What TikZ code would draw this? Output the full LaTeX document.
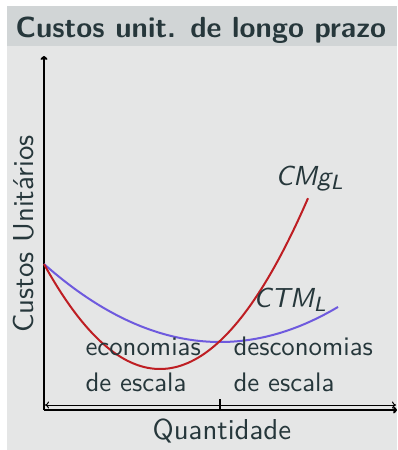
\documentclass[tikz,border=0pt]{standalone}
\usetikzlibrary{arrows.meta}
\definecolor{bgbody}{RGB}{229,230,230}
\definecolor{bgtitle}{RGB}{209,213,214}
\definecolor{txt}{RGB}{38,55,59}
\definecolor{cmgcol}{RGB}{190,30,35}
\definecolor{ctmcol}{RGB}{110,90,222}
\newcommand\lowsub[1]{\raisebox{-1.6pt}{\fontsize{7.5}{8}\selectfont\itshape #1}}
\tikzset{
  txtbase/.style={inner sep=0pt, anchor=base west, text=txt, font=\sffamily\fontsize{10}{12}\selectfont, transform shape},
  lbl/.style={txtbase, scale=2.68},
  axlbl/.style={txtbase, scale=2.88},
  mlbl/.style={txtbase, scale=2.75},
  titlelbl/.style={txtbase, font=\sffamily\bfseries\fontsize{10}{12}\selectfont, scale=2.91},
  axis/.style={line width=2pt, black},
  curve/.style={line width=2pt}
}
\begin{document}
\begin{tikzpicture}[x=1pt,y=-1pt]
\useasboundingbox (0,0) rectangle (397,450);
\fill[bgbody] (7,6) rectangle (397,450);
\fill[bgtitle] (7,6) rectangle (397,46);
\node[titlelbl] (title) at (15,37) {Custos unit. de longo prazo};
% axes
\coordinate (O) at (44,410);
\coordinate (Ytop) at (44,56);
\coordinate (Xend) at (397,410);
\coordinate (La) at (45,405);
\coordinate (Lb) at (396,405);
\coordinate (Ta) at (220,399);
\coordinate (Tb) at (220,410);
\draw[axis, -{To[length=4pt,width=7pt]}] (O) -- (Ytop);
\draw[axis, -{To[length=4pt,width=7pt]}] (O) -- (Xend);
\draw[line width=1pt, {To[length=4pt,width=7pt]}-{To[length=4pt,width=7pt]}] (La) -- (Lb);
\draw[axis] (Ta) -- (Tb);
% curves
\draw[curve, ctmcol] plot[domain=44:338, samples=80] (\x, {342 - 0.00252*(\x-220)*(\x-220)});
\draw[curve, cmgcol] plot[domain=44:308, samples=80] (\x, {369 - 0.0078*(\x-160)*(\x-160)});
% labels
\node[mlbl] (cmg) at (275,185) {\itshape CMg\lowsub{L}};
\node[mlbl] (ctm) at (253,307) {\itshape CTM\lowsub{L}};
\node[lbl] (eco1) at (85,355) {economias};
\node[lbl] (eco2) at (85,391) {de escala};
\node[lbl] (des1) at (233,355) {desconomias};
\node[lbl] (des2) at (233,391) {de escala};
\node[axlbl] (xlab) at (152,439) {Quantidade};
\node[axlbl, rotate=90] (ylab) at (33,333) {Custos Unitários};
\end{tikzpicture}
\end{document}
